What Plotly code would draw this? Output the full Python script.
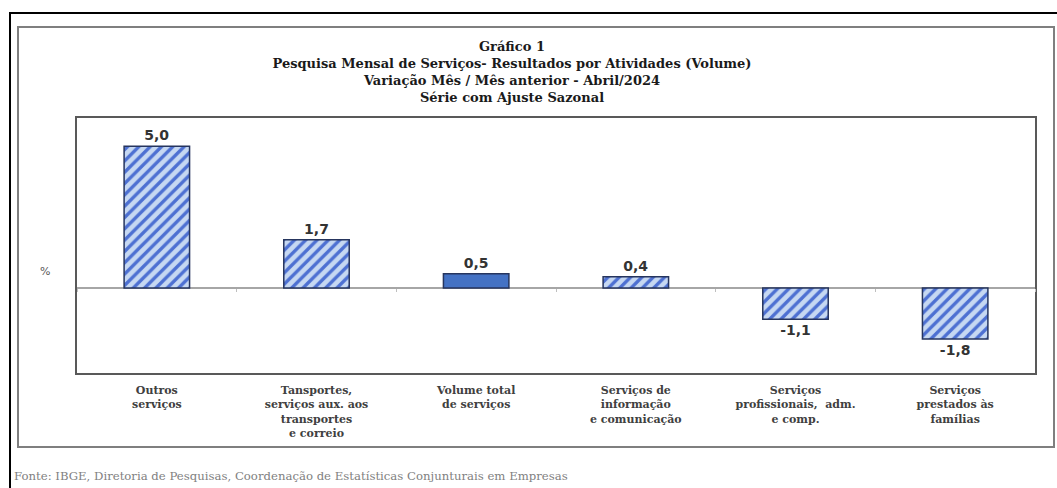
import plotly.graph_objects as go

categories = [
    "Outros<br>serviços",
    "Tansportes,<br>serviços aux. aos<br>transportes<br>e correio",
    "Volume total<br>de serviços",
    "Serviços de<br>informação<br>e comunicação",
    "Serviços<br>profissionais,  adm.<br>e comp.",
    "Serviços<br>prestados às<br>famílias",
]
values = [5.0, 1.7, 0.5, 0.4, -1.1, -1.8]
highlight = [False, False, True, False, False, False]

title_lines = [
    "Gráfico 1",
    "Pesquisa Mensal de Serviços- Resultados por Atividades (Volume)",
    "Variação Mês / Mês anterior - Abril/2024",
    "Série com Ajuste Sazonal",
]
source_text = "Fonte: IBGE, Diretoria de Pesquisas, Coordenação de Estatísticas Conjunturais em Empresas"
y_unit = "%"

W, H = 1057, 488
L, R, T, B = 77, 22, 118, 115
PW, PH = W - L - R, H - T - B


def px(x):
    return (x - L) / PW


def py(y):
    return 1 - (y - T) / PH


STRIPE_BG = "#c6d8f2"
STRIPE_FG = "#4d70d2"
SOLID = "#4472c4"
EDGE = "#26355e"

striped_vals = [None if h else v for v, h in zip(values, highlight)]
solid_vals = [v if h else None for v, h in zip(values, highlight)]

label_font = dict(family="DejaVu Sans", size=14, color="#333333", weight="bold")

fig = go.Figure()
fig.add_trace(go.Bar(
    x=categories,
    y=striped_vals,
    marker=dict(
        color=STRIPE_BG,
        line=dict(color=EDGE, width=1.5),
        pattern=dict(
            shape="/",
            fgcolor=STRIPE_FG,
            bgcolor=STRIPE_BG,
            fgopacity=1,
            size=8,
            solidity=0.42,
            fillmode="replace",
        ),
    ),
    texttemplate="%{y:.1f}",
    textposition="outside",
    textfont=label_font,
    cliponaxis=False,
    hoverinfo="skip",
    width=0.41,
))
fig.add_trace(go.Bar(
    x=categories,
    y=solid_vals,
    marker=dict(color=SOLID, line=dict(color=EDGE, width=1.5)),
    texttemplate="%{y:.1f}",
    textposition="outside",
    textfont=label_font,
    cliponaxis=False,
    hoverinfo="skip",
    width=0.41,
))
# invisible trace to carry the category ticks on the zero line
fig.add_trace(go.Scatter(x=categories, y=values, mode="none", xaxis="x2",
                         hoverinfo="skip", showlegend=False))

y_min, y_max = -3, 6

fig.update_layout(
    width=W, height=H,
    margin=dict(l=L, r=R, t=T, b=B),
    paper_bgcolor="white",
    plot_bgcolor="white",
    showlegend=False,
    barmode="overlay",
    separators=",.",
    title=dict(
        text="<br>".join(title_lines),
        x=512 / W, xanchor="center",
        y=1 - 51 / H, yanchor="top",
        font=dict(family="DejaVu Serif", size=13, color="#1a1a1a", weight="bold"),
    ),
    xaxis=dict(
        type="category",
        showline=True, mirror=True, linecolor="#595959", linewidth=1.5,
        ticks="", showgrid=False,
        tickfont=dict(family="DejaVu Serif", size=11, color="#404040", weight="bold"),
        ticklabelstandoff=6,
    ),
    xaxis2=dict(
        type="category", overlaying="x", matches="x",
        anchor="free", position=(0 - y_min) / (y_max - y_min),
        showline=False, showgrid=False, showticklabels=False,
        ticks="outside", tickson="boundaries", ticklen=3,
        tickcolor="#bfbfbf", tickwidth=1,
    ),
    yaxis=dict(
        range=[y_min, y_max],
        showline=True, mirror=True, linecolor="#595959", linewidth=1.5,
        showticklabels=False, ticks="", showgrid=False,
        zeroline=True, zerolinecolor="#a6a6a6", zerolinewidth=2,
    ),
    shapes=[
        # outer black frame
        dict(type="rect", xref="paper", yref="paper",
             x0=px(10), x1=px(1064), y0=py(13), y1=py(496),
             line=dict(color="#000000", width=2), layer="below"),
        # inner gray frame
        dict(type="rect", xref="paper", yref="paper",
             x0=px(18), x1=px(1054), y0=py(27), y1=py(447),
             line=dict(color="#7f7f7f", width=2), layer="below"),
    ],
    annotations=[
        dict(text=y_unit, xref="paper", yref="paper", x=px(45), y=py(271),
             xanchor="center", yanchor="middle", showarrow=False,
             font=dict(family="DejaVu Sans", size=11, color="#595959")),
        dict(text=source_text, xref="paper", yref="paper", x=px(12), y=py(476),
             xanchor="left", yanchor="middle", showarrow=False,
             font=dict(family="DejaVu Serif", size=11.7, color="#7f7f7f")),
    ],
)

fig.write_html(
    "out.html",
    config={"displayModeBar": False},
    post_script="document.body.style.margin='0';document.body.style.overflow='hidden';",
)
